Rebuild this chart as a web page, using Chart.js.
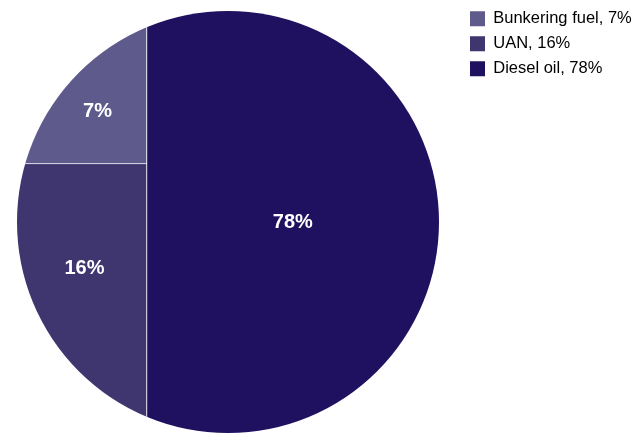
<!DOCTYPE html>
<html>
<head>
<meta charset="utf-8">
<script src="https://cdn.jsdelivr.net/npm/chart.js@4.4.1/dist/chart.umd.min.js"></script>
<style>
  html, body { margin: 0; padding: 0; background: #ffffff; }
  canvas { display: block; }
</style>
</head>
<body>
<canvas id="chart" width="637" height="435"></canvas>
<script>
// Fuel mix shares, in percent
const categories = ['Bunkering fuel', 'UAN', 'Diesel oil'];
const shares = [7, 16, 78];
const colors = ['#5f5a8c', '#3f356f', '#1f115f'];

const FONT = "'Liberation Sans', Arial, sans-serif";
const PIE_DIAMETER = 422;          // px

// The disc is the circumcircle of the unit square: centre (0.5, 0.5), radius 1/sqrt(2).
const R = Math.SQRT1_2;
const LO = 0.5 - R, HI = 0.5 + R;

// Treemap split of the unit square: the largest share takes the right-hand column,
// the two smaller shares are stacked in the left-hand column.
const total = shares.reduce((a, b) => a + b, 0);
const splitX = (shares[0] + shares[1]) / total;
const splitY = 1 - shares[0] / (shares[0] + shares[1]);

const regions = [
  { x0: LO,     x1: splitX, y0: splitY, y1: HI },     // top left
  { x0: LO,     x1: splitX, y0: LO,     y1: splitY }, // bottom left
  { x0: splitX, x1: HI,     y0: LO,     y1: HI }      // right
];

// Each tile is a flat line along its top edge, filled down to its bottom value.
const tileSets = regions.map((r, i) => ({
  label: categories[i],
  data: [{ x: r.x0, y: r.y1 }, { x: r.x1, y: r.y1 }],
  fill: { value: r.y0 },
  backgroundColor: colors[i],
  borderColor: 'rgba(0,0,0,0)',
  borderWidth: 0,
  pointRadius: 0,
  pointHoverRadius: 0,
  order: 1
}));

// Thin light dividers between tiles
const dividerSets = [
  [{ x: splitX, y: LO }, { x: splitX, y: HI }],
  [{ x: LO, y: splitY }, { x: splitX, y: splitY }]
].map(pts => ({
  data: pts,
  fill: false,
  borderColor: 'rgba(255,255,255,0.72)',
  borderWidth: 1,
  pointRadius: 0,
  pointHoverRadius: 0,
  order: 0
}));

// Keep one data unit the same number of pixels on both axes
function fitRange(scale) {
  const len = scale.isHorizontal() ? scale.width : scale.height;
  scale.min = LO;
  scale.max = LO + len * (2 * R) / PIE_DIAMETER;
}

// Label anchor: area-centroid height of the tile inside the disc, centred across the tile at that height
function labelAnchor(r) {
  const n = 240;
  let sy = 0, cnt = 0;
  for (let i = 0; i < n; i++) {
    const x = r.x0 + (r.x1 - r.x0) * (i + 0.5) / n;
    for (let j = 0; j < n; j++) {
      const y = r.y0 + (r.y1 - r.y0) * (j + 0.5) / n;
      if ((x - 0.5) ** 2 + (y - 0.5) ** 2 <= R * R) { sy += y; cnt++; }
    }
  }
  const cy = sy / cnt;
  const half = Math.sqrt(Math.max(0, R * R - (cy - 0.5) ** 2));
  const xl = Math.max(r.x0, 0.5 - half), xr = Math.min(r.x1, 0.5 + half);
  return { x: (xl + xr) / 2, y: cy };
}

const discPlugin = {
  id: 'disc',
  beforeDatasetsDraw(chart) {
    const { ctx, scales: { x, y } } = chart;
    const cx = x.getPixelForValue(0.5), cy = y.getPixelForValue(0.5);
    const r = x.getPixelForValue(0.5 + R) - cx;
    ctx.save();
    ctx.beginPath();
    ctx.arc(cx, cy, r, 0, Math.PI * 2);
    ctx.clip();
  },
  afterDatasetsDraw(chart) {
    const { ctx, scales: { x, y } } = chart;
    ctx.restore();
    ctx.save();
    ctx.fillStyle = '#ffffff';
    ctx.font = "bold 20px " + FONT;
    ctx.textAlign = 'center';
    ctx.textBaseline = 'middle';
    regions.forEach((r, i) => {
      const a = labelAnchor(r);
      ctx.fillText(shares[i] + '%', x.getPixelForValue(a.x), y.getPixelForValue(a.y));
    });
    ctx.restore();
  }
};

new Chart(document.getElementById('chart'), {
  type: 'line',
  data: { datasets: [...tileSets, ...dividerSets] },
  options: {
    responsive: false,
    devicePixelRatio: 1,
    animation: false,
    events: [],
    layout: { autoPadding: false, padding: { left: 17, top: 2, right: 4, bottom: 2 } },
    scales: {
      x: { type: 'linear', display: false, bounds: 'data', afterDataLimits: fitRange },
      y: { type: 'linear', display: false, bounds: 'data', afterDataLimits: fitRange }
    },
    plugins: {
      tooltip: { enabled: false },
      legend: {
        position: 'right',
        align: 'start',
        maxWidth: 171.5,
        labels: {
          boxWidth: 15,
          boxHeight: 15,
          padding: 8.5,
          color: '#333333',
          font: { family: FONT, size: 16.5 },
          generateLabels: () => categories.map((c, i) => ({
            text: c + ', ' + shares[i] + '%',
            fillStyle: colors[i],
            strokeStyle: colors[i],
            lineWidth: 0,
            hidden: false,
            datasetIndex: i
          }))
        }
      }
    }
  },
  plugins: [discPlugin]
});
</script>
</body>
</html>
